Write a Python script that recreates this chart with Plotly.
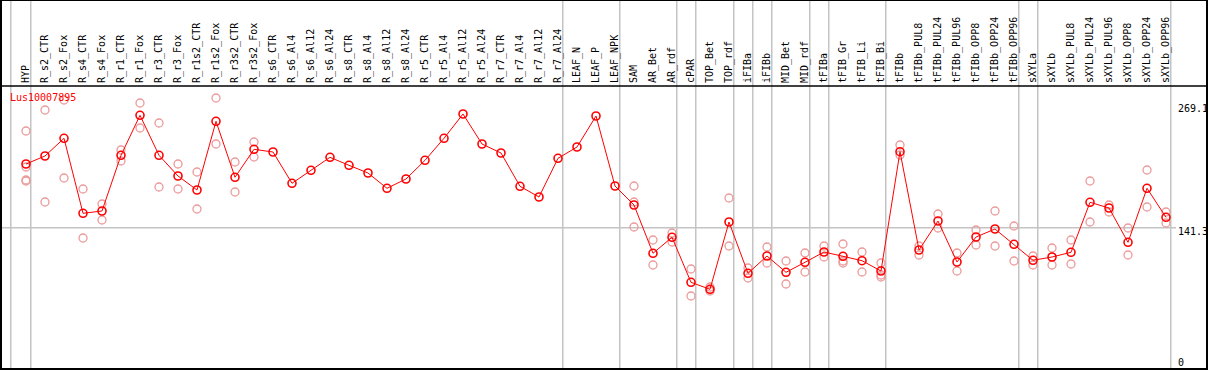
import plotly.graph_objects as go

categories = [
    "HYP", "R_s2_CTR", "R_s2_Fox", "R_s4_CTR", "R_s4_Fox", "R_r1_CTR", "R_r1_Fox",
    "R_r3_CTR", "R_r3_Fox", "R_r1s2_CTR", "R_r1s2_Fox", "R_r3s2_CTR", "R_r3s2_Fox",
    "R_s6_CTR", "R_s6_Al4", "R_s6_Al12", "R_s6_Al24", "R_s8_CTR", "R_s8_Al4",
    "R_s8_Al12", "R_s8_Al24", "R_r5_CTR", "R_r5_Al4", "R_r5_Al12", "R_r5_Al24",
    "R_r7_CTR", "R_r7_Al4", "R_r7_Al12", "R_r7_Al24", "LEAF_N", "LEAF_P", "LEAF_NPK",
    "SAM", "AR_Bet", "AR_rdf", "cPAR", "TOP_Bet", "TOP_rdf", "iFIBa", "iFIBb",
    "MID_Bet", "MID_rdf", "tFIBa", "tFIB_Gr", "tFIB_Li", "tFIB_Bi", "tFIBb",
    "tFIBb_PUL8", "tFIBb_PUL24", "tFIBb_PUL96", "tFIBb_OPP8", "tFIBb_OPP24",
    "tFIBb_OPP96", "sXYLa", "sXYLb", "sXYLb_PUL8", "sXYLb_PUL24", "sXYLb_PUL96",
    "sXYLb_OPP8", "sXYLb_OPP24", "sXYLb_OPP96",
]

mean_values = [
    205, 213, 230.7, 155.7, 158, 213.7, 253.7, 213.7, 193, 179, 247.7, 191.7, 219.7,
    217, 185.7, 198.7, 211.7, 203.7, 196, 180.7, 190, 208.7, 230.7, 255, 225,
    216, 182.7, 172, 210.7, 222, 253, 183,
    164, 115.7, 131.7, 86.7, 79.7, 147, 95.7, 113, 96.7, 106.7, 117, 112.7, 108.3, 98,
    217.3, 119, 148, 107, 132, 140, 124.7, 108.7, 112, 116.7, 166.7, 161, 126.7,
    180.7, 151.7,
]

replicates = [
    [238, 202, 189, 188], [259, 167], [269, 191], [180, 131], [165, 149], [219, 208],
    [266, 241], [246, 182], [205, 180], [197, 160], [271, 225], [207, 177], [227, 212],
    [], [], [], [], [], [], [], [], [], [], [], [], [], [], [], [], [], [], [],
    [183, 167, 142], [129, 104], [136, 127], [100, 73], [82, 78], [171, 123],
    [101, 91], [122, 106], [108, 85], [116, 97], [123, 112], [125, 108, 106],
    [117, 97], [106, 94, 92], [224, 214], [123, 114], [155, 141], [116, 98],
    [139, 124], [158, 123], [143, 108], [113, 104], [121, 104], [129, 105],
    [188, 147], [164, 157], [141, 114], [199, 162], [157, 146],
]

y_tick_values = [269.1, 141.3, 0]
y_tick_labels = ["269.1", "141.3", "0"]
group_breaks = [-0.8, 0.25, 28.25, 31.25, 34.25, 35.25, 37.25, 38.25, 39.25,
                41.25, 42.25, 45.25, 52.25, 53.25, 60.25]
gene_id = "Lus10007895"

W, H = 1209, 370
ML, MR, MT, MB = 1, 2, 86, 1
plot_h = H - MT - MB
x_idx = list(range(len(categories)))

rep_x, rep_y = [], []
for i, reps in enumerate(replicates):
    for v in reps:
        rep_x.append(i)
        rep_y.append(v)

fig = go.Figure()
fig.add_trace(go.Scatter(
    x=rep_x, y=rep_y, mode="markers", hoverinfo="skip", cliponaxis=False,
    marker=dict(symbol="circle-open", size=8, color="#ec9a9a", line=dict(width=1.3)),
))
fig.add_trace(go.Scatter(
    x=x_idx, y=mean_values, mode="lines+markers", cliponaxis=False,
    line=dict(color="#ff0000", width=1),
    marker=dict(symbol="circle-open", size=8, color="#ff0000", line=dict(width=1.6)),
))

top_paper = 1 + MT / plot_h
shapes = []
for b in group_breaks:
    shapes.append(dict(type="line", xref="x", yref="paper", x0=b, x1=b, y0=0, y1=top_paper,
                       line=dict(color="#c4c4c4", width=1.5), layer="below"))
shapes.append(dict(type="line", xref="paper", yref="y", x0=0, x1=(1176 - ML) / (W - ML - MR),
                   y0=y_tick_values[1], y1=y_tick_values[1],
                   line=dict(color="#c4c4c4", width=1.5), layer="below"))
# frame and header separator
shapes.append(dict(type="rect", xref="paper", yref="paper", x0=0, x1=1, y0=0, y1=top_paper,
                   line=dict(color="black", width=2)))
shapes.append(dict(type="line", xref="paper", yref="paper", x0=0, x1=1, y0=1, y1=1,
                   line=dict(color="black", width=1.5)))

annotations = [dict(text=gene_id, xref="paper", yref="y", x=(9 - ML) / (W - ML - MR), y=272,
                    xanchor="left", yanchor="middle", showarrow=False, borderpad=0,
                    font=dict(family="DejaVu Sans Mono", size=10, color="#ff0000"))]
label_y = {"269.1": 261, "141.3": 137.3, "0": 7}
for v, t in zip(y_tick_values, y_tick_labels):
    annotations.append(dict(text=t, xref="x", yref="y", x=60.58, y=label_y[t],
                            xanchor="left", yanchor="middle", showarrow=False, borderpad=0,
                            font=dict(family="DejaVu Sans Mono", size=10, color="black")))

x0 = -(26 - ML) / 19
x1 = x0 + (W - ML - MR) / 19
fig.update_layout(
    width=W, height=H, margin=dict(l=ML, r=MR, t=MT, b=MB, pad=0, autoexpand=False),
    paper_bgcolor="white", plot_bgcolor="white", showlegend=False,
    shapes=shapes, annotations=annotations,
    xaxis=dict(range=[x0, x1], side="top", tickmode="array", tickvals=x_idx,
               ticktext=categories, tickangle=-90, showgrid=False, zeroline=False,
               showline=False, ticks="", ticklabelstandoff=2, automargin=False,
               tickfont=dict(family="DejaVu Sans Mono", size=10, color="black")),
    yaxis=dict(range=[0, plot_h], showgrid=False, zeroline=False, showticklabels=False,
               showline=False, ticks="", automargin=False),
)
fig.write_html("out.html", config={"displayModeBar": False},
               post_script="document.body.style.margin='0px';document.body.style.overflow='hidden';")
